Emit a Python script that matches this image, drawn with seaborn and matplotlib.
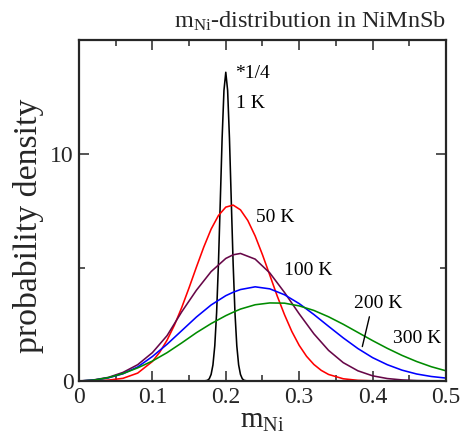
import pandas as pd
import matplotlib
matplotlib.use('Agg')
import matplotlib.pyplot as plt
from matplotlib.ticker import FixedLocator
import seaborn as sns

# m_Ni-distribution in NiMnSb
x_grid = [0.00, 0.02, 0.04, 0.06, 0.08, 0.10, 0.12, 0.14, 0.16, 0.18, 0.20, 0.21, 0.22,
          0.24, 0.26, 0.28, 0.30, 0.32, 0.34, 0.36, 0.38, 0.40, 0.42, 0.44, 0.46, 0.48, 0.50]

# 1 K curve (scaled by 1/4), narrow peak at 0.2
x_1K = [0.00, 0.17, 0.175, 0.1775, 0.18, 0.1825, 0.185, 0.1875, 0.19, 0.1925, 0.195, 0.1975,
        0.20, 0.2025, 0.205, 0.2075, 0.21, 0.2125, 0.215, 0.2175, 0.22, 0.2225, 0.225, 0.23, 0.50]
y_1K = [0.00, 0.00, 0.03, 0.10, 0.29, 0.71, 1.55, 3.01, 5.18, 7.91, 10.69, 12.80,
        13.60, 12.80, 10.69, 7.91, 5.18, 3.01, 1.55, 0.71, 0.29, 0.10, 0.03, 0.00, 0.00]

# 50 K is read on a finer step around its peak
x_50K = [0.00, 0.02, 0.04, 0.06, 0.08, 0.10, 0.11, 0.12, 0.13, 0.14, 0.15, 0.16, 0.17,
         0.18, 0.19, 0.20, 0.21, 0.22, 0.23, 0.24, 0.25, 0.26, 0.27, 0.28, 0.29, 0.30,
         0.31, 0.32, 0.33, 0.34, 0.36, 0.38, 0.40, 0.42, 0.50]
y_50K = [0.00, 0.01, 0.04, 0.12, 0.35, 0.86, 1.27, 1.80, 2.46, 3.24, 4.11, 5.02, 5.90,
         6.69, 7.29, 7.66, 7.75, 7.54, 7.07, 6.39, 5.56, 4.66, 3.75, 2.92, 2.18, 1.57,
         1.09, 0.73, 0.47, 0.29, 0.10, 0.03, 0.01, 0.00, 0.00]

y_100K = [0.00, 0.05, 0.16, 0.38, 0.72, 1.25, 2.00, 3.05, 4.00, 4.82, 5.40, 5.56, 5.62,
          5.37, 4.76, 3.90, 2.96, 2.08, 1.35, 0.81, 0.45, 0.23, 0.11, 0.05, 0.02, 0.01, 0.00]
y_200K = [0.00, 0.04, 0.14, 0.32, 0.62, 1.08, 1.62, 2.22, 2.82, 3.35, 3.76, 3.91, 4.03,
          4.15, 4.06, 3.80, 3.41, 2.93, 2.41, 1.90, 1.43, 1.03, 0.72, 0.48, 0.31, 0.20, 0.13]
y_300K = [0.00, 0.04, 0.15, 0.33, 0.58, 0.88, 1.25, 1.68, 2.13, 2.53, 2.88, 3.03, 3.17,
          3.36, 3.44, 3.43, 3.31, 3.11, 2.83, 2.50, 2.14, 1.78, 1.44, 1.13, 0.86, 0.63, 0.45]

temps = ['1 K', '50 K', '100 K', '200 K', '300 K']
colors = ['black', '#ff0000', '#670748', '#0000ff', '#008b00']
xticks = [0.0, 0.1, 0.2, 0.3, 0.4, 0.5]
xtick_labels = ['0', '0.1', '0.2', '0.3', '0.4', '0.5']

frames = [pd.DataFrame({'m': x_1K, 'p': y_1K, 'T': '1 K'}),
          pd.DataFrame({'m': x_50K, 'p': y_50K, 'T': '50 K'})]
for name, ys in zip(temps[2:], [y_100K, y_200K, y_300K]):
    frames.append(pd.DataFrame({'m': x_grid, 'p': ys, 'T': name}))
df = pd.concat(frames, ignore_index=True)

sns.set_style('ticks')
plt.rcParams['font.family'] = ['Liberation Serif', 'DejaVu Serif']
plt.rcParams['mathtext.fontset'] = 'custom'
plt.rcParams['mathtext.rm'] = 'Liberation Serif'

fig = plt.figure(figsize=(4.7, 4.4), dpi=100)
ax = fig.add_axes([0.168, 0.134, 0.781, 0.774])

sns.lineplot(data=df, x='m', y='p', hue='T', hue_order=temps, palette=colors,
             sort=False, estimator=None, linewidth=1.15, legend=False, ax=ax)

ax.set_xlim(0, 0.5)
ax.set_ylim(0, 15)
ax.xaxis.set_major_locator(FixedLocator(xticks))
ax.xaxis.set_minor_locator(FixedLocator([0.05, 0.15, 0.25, 0.35, 0.45]))
ax.set_xticklabels(xtick_labels)
ax.yaxis.set_major_locator(FixedLocator([0, 10]))
ax.yaxis.set_minor_locator(FixedLocator([5]))
ax.set_yticklabels(['0', '10'])
ax.tick_params(which='both', direction='in', top=True, right=True, width=1.1,
               labelsize=17, pad=4)
ax.tick_params(which='major', length=7)
ax.tick_params(which='minor', length=4)
for s in ax.spines.values():
    s.set_linewidth(1.6)

ax.set_xlabel(r'$\mathregular{m_{Ni}}$', fontsize=21, labelpad=0)
ax.set_ylabel('probability density', fontsize=24.3)
ax.yaxis.set_label_coords(-0.095, 0.455)
ax.set_title(r'$\mathregular{m_{Ni}}$-distribution in NiMnSb', loc='right',
             fontsize=17.5, pad=9)

lab = dict(fontsize=14, color='black')
ax.text(0.2125, 13.35, '*1/4', **lab)
ax.text(0.2139, 12.03, '1 K', **lab)
ax.text(0.2407, 7.02, '50 K', **lab)
ax.text(0.2793, 4.67, '100 K', **lab)
ax.text(0.3750, 3.20, '200 K', **lab)
ax.text(0.4274, 1.66, '300 K', **lab)
ax.annotate('', xy=(0.3851, 1.40), xytext=(0.3965, 2.95),
            arrowprops=dict(arrowstyle='-', color='black', lw=1.0))

fig.savefig('out.png', dpi=100)
